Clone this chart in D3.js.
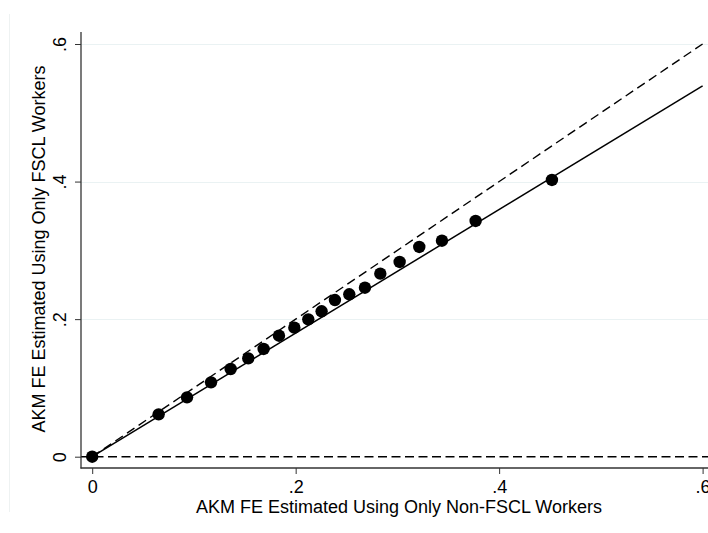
<!DOCTYPE html>
<html>
<head>
<meta charset="utf-8">
<script src="https://cdn.jsdelivr.net/npm/d3@7"></script>
<style>
  html, body { margin: 0; padding: 0; background: #fff; }
  svg { display: block; font-family: "Liberation Sans", Arial, Helvetica, sans-serif; }
</style>
</head>
<body>
<svg id="chart" width="708" height="533"></svg>
<script>
// ---- data ----
const nonFsclFE = [0, 0.0653, 0.0932, 0.1168, 0.1361, 0.1534, 0.1685, 0.1836, 0.1987, 0.2124,
                   0.2255, 0.2386, 0.2527, 0.2681, 0.2832, 0.3022, 0.3215, 0.3438, 0.3769, 0.4519];
const fsclFE    = [0, 0.0616, 0.0863, 0.1081, 0.1275, 0.1430, 0.1566, 0.1759, 0.1876, 0.1997,
                   0.2114, 0.2278, 0.2361, 0.2457, 0.2661, 0.2831, 0.3049, 0.3140, 0.3427, 0.4023];
const fitX = [0, 0.6];
const fitY = [0, 0.539];
const diagX = [0, 0.6];
const diagY = [0, 0.6];
const xTicks = [0, 0.2, 0.4, 0.6];
const yTicks = [0, 0.2, 0.4, 0.6];
const xTickLabels = ["0", ".2", ".4", ".6"];
const yTickLabels = ["0", ".2", ".4", ".6"];
const xTitle = "AKM FE Estimated Using Only Non-FSCL Workers";
const yTitle = "AKM FE Estimated Using Only FSCL Workers";

// ---- layout ----
const svg = d3.select("#chart");
const plot = { left: 81, right: 708, top: 32, bottom: 468 };

const x = d3.scaleLinear().domain([0, 0.6]).range([92.2, 702.6]);
const y = d3.scaleLinear().domain([0, 0.6]).range([456.7, 44]);

// faint outer border
svg.append("line")
  .attr("x1", 9.5).attr("x2", 9.5).attr("y1", 14).attr("y2", 512)
  .attr("stroke", "#eef2f2").attr("stroke-width", 1);

// gridlines
svg.append("g").selectAll("line")
  .data(yTicks.filter(d => d !== 0))
  .join("line")
  .attr("x1", plot.left).attr("x2", plot.right)
  .attr("y1", d => Math.round(y(d)) + 0.5).attr("y2", d => Math.round(y(d)) + 0.5)
  .attr("stroke", "#eaf2f3").attr("stroke-width", 1);

// horizontal dashed line at 0
svg.append("line")
  .attr("x1", plot.left).attr("x2", plot.right)
  .attr("y1", y(0)).attr("y2", y(0))
  .attr("stroke", "#000").attr("stroke-width", 1.4)
  .attr("stroke-dasharray", "9,4.5");

// 45-degree dashed line
const line = d3.line().x(d => x(d[0])).y(d => y(d[1]));
svg.append("path")
  .attr("d", line(diagX.map((v, i) => [v, diagY[i]])))
  .attr("fill", "none").attr("stroke", "#000").attr("stroke-width", 1.4)
  .attr("stroke-dasharray", "9,5");

// fitted line
svg.append("path")
  .attr("d", line(fitX.map((v, i) => [v, fitY[i]])))
  .attr("fill", "none").attr("stroke", "#000").attr("stroke-width", 1.5);

// points
svg.append("g").selectAll("circle")
  .data(nonFsclFE.map((v, i) => [v, fsclFE[i]]))
  .join("circle")
  .attr("cx", d => x(d[0])).attr("cy", d => y(d[1]))
  .attr("r", 6.2).attr("fill", "#000");

// axes
const xAxis = d3.axisBottom(x).tickValues(xTicks).tickSize(6).tickSizeOuter(0)
  .tickFormat((d, i) => xTickLabels[i]);
const gx = svg.append("g").attr("transform", `translate(0,${plot.bottom})`).call(xAxis);
gx.select(".domain").remove();
gx.selectAll(".tick line").attr("stroke", "#333");
gx.selectAll(".tick text").attr("font-size", 18).attr("fill", "#000")
  .attr("font-family", "Liberation Sans, Arial, sans-serif").attr("dy", null).attr("y", 25);

const yAxis = d3.axisLeft(y).tickValues(yTicks).tickSize(6).tickSizeOuter(0)
  .tickFormat((d, i) => yTickLabels[i]);
const gy = svg.append("g").attr("transform", `translate(${plot.left},0)`).call(yAxis);
gy.select(".domain").remove();
gy.selectAll(".tick line").attr("stroke", "#333");
gy.selectAll(".tick text")
  .attr("font-size", 18).attr("fill", "#000")
  .attr("font-family", "Liberation Sans, Arial, sans-serif")
  .attr("x", null).attr("dy", null)
  .attr("text-anchor", "middle")
  .attr("transform", "translate(-15.5,0) rotate(-90)");

// axis lines
svg.append("line").attr("x1", plot.left).attr("x2", plot.left)
  .attr("y1", plot.top).attr("y2", plot.bottom + 0.5)
  .attr("stroke", "#333").attr("stroke-width", 1.3);
svg.append("line").attr("x1", plot.left - 0.5).attr("x2", plot.right)
  .attr("y1", plot.bottom).attr("y2", plot.bottom)
  .attr("stroke", "#333").attr("stroke-width", 1.3);

// titles
svg.append("text")
  .attr("x", 399).attr("y", 513)
  .attr("text-anchor", "middle").attr("font-size", 18).attr("fill", "#000")
  .text(xTitle);
svg.append("text")
  .attr("transform", `translate(45,249) rotate(-90)`)
  .attr("text-anchor", "middle").attr("font-size", 18).attr("fill", "#000")
  .text(yTitle);
</script>
</body>
</html>
